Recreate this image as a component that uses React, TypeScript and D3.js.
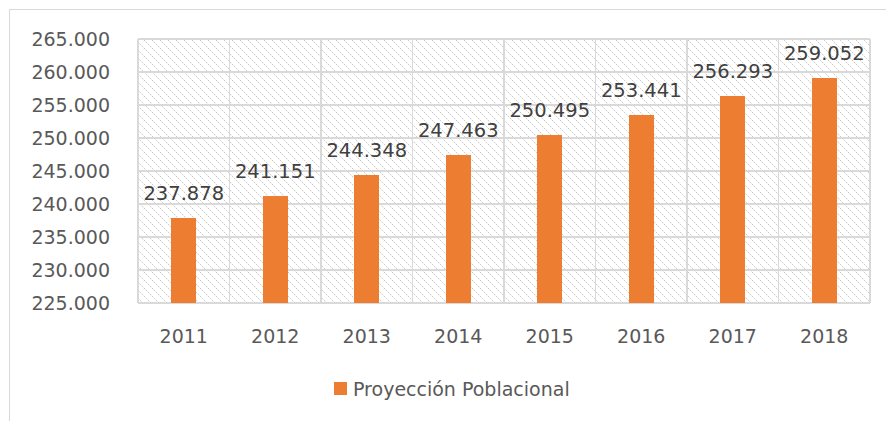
import React from "react";
import * as d3 from "d3";

const years = ["2011", "2012", "2013", "2014", "2015", "2016", "2017", "2018"];
const population = [237878, 241151, 244348, 247463, 250495, 253441, 256293, 259052];
const yTicks = [225000, 230000, 235000, 240000, 245000, 250000, 255000, 260000, 265000];
const seriesName = "Proyección Poblacional";

const W = 886;
const H = 421;
const plot = { left: 138, right: 870, top: 39, bottom: 303 };
const FONT = "'DejaVu Sans', sans-serif";

const fmt = (v: number) => {
  const s = String(v);
  return s.slice(0, s.length - 3) + "." + s.slice(s.length - 3);
};

const hatchCells = d3.range(8);

export default function App() {
  const x = d3.scaleBand<string>().domain(years).range([plot.left, plot.right]).paddingInner(0).paddingOuter(0);
  const y = d3.scaleLinear().domain([225000, 265000]).range([plot.bottom, plot.top]);
  const bw = 25;

  return (
    <svg width={W} height={H} style={{ position: "absolute", left: 0, top: 0, background: "#fff" }} shapeRendering="crispEdges">
      <defs>
        <pattern id="hatch" width="8" height="8" patternUnits="userSpaceOnUse">
          {hatchCells.map((k) => (
            <rect key={k} x={k} y={k} width={1} height={1} fill={k % 2 === 0 ? "#cccccc" : "#ececec"} />
          ))}
        </pattern>
      </defs>
      {/* outer frame */}
      <line x1={9} x2={W} y1={9.5} y2={9.5} stroke="#d9d9d9" strokeWidth={1.5} />
      <line x1={9.5} x2={9.5} y1={9} y2={H} stroke="#d9d9d9" strokeWidth={1.5} />
      {/* plot background */}
      <rect x={plot.left} y={plot.top} width={plot.right - plot.left} height={plot.bottom - plot.top} fill="url(#hatch)" />
      {/* horizontal gridlines */}
      {yTicks.map((t) => (
        <line key={t} x1={plot.left} x2={plot.right} y1={y(t)} y2={y(t)} stroke="#d9d9d9" strokeWidth={1.5} />
      ))}
      {/* vertical gridlines */}
      {years.map((yr) => (
        <line key={yr} x1={x(yr)!} x2={x(yr)!} y1={plot.top} y2={plot.bottom} stroke="#d9d9d9" strokeWidth={1.5} />
      ))}
      <line x1={plot.right} x2={plot.right} y1={plot.top} y2={plot.bottom} stroke="#d9d9d9" strokeWidth={1.5} />
      {/* bars */}
      {years.map((yr, i) => {
        const cx = x(yr)! + x.bandwidth() / 2;
        return (
          <rect key={yr} x={cx - bw / 2} y={y(population[i])} width={bw} height={plot.bottom - y(population[i])} fill="#ED7D31" />
        );
      })}
      {/* data labels */}
      {years.map((yr, i) => {
        const cx = x(yr)! + x.bandwidth() / 2;
        return (
          <text key={yr} x={cx} y={y(population[i]) - 18} textAnchor="middle" fontFamily={FONT} fontSize={19.5} fill="#404040" shapeRendering="auto">
            {fmt(population[i])}
          </text>
        );
      })}
      {/* y axis labels */}
      {yTicks.map((t) => (
        <text key={t} x={110} y={y(t) + 6.5} textAnchor="end" fontFamily={FONT} fontSize={19} fill="#595959">
          {fmt(t)}
        </text>
      ))}
      {/* x axis labels */}
      {years.map((yr) => (
        <text key={yr} x={x(yr)! + x.bandwidth() / 2} y={343} textAnchor="middle" fontFamily={FONT} fontSize={19} fill="#595959">
          {yr}
        </text>
      ))}
      {/* legend */}
      <rect x={334} y={382} width={13} height={13} fill="#ED7D31" />
      <text x={353} y={396} fontFamily={FONT} fontSize={19} fill="#595959">
        {seriesName}
      </text>
    </svg>
  );
}
